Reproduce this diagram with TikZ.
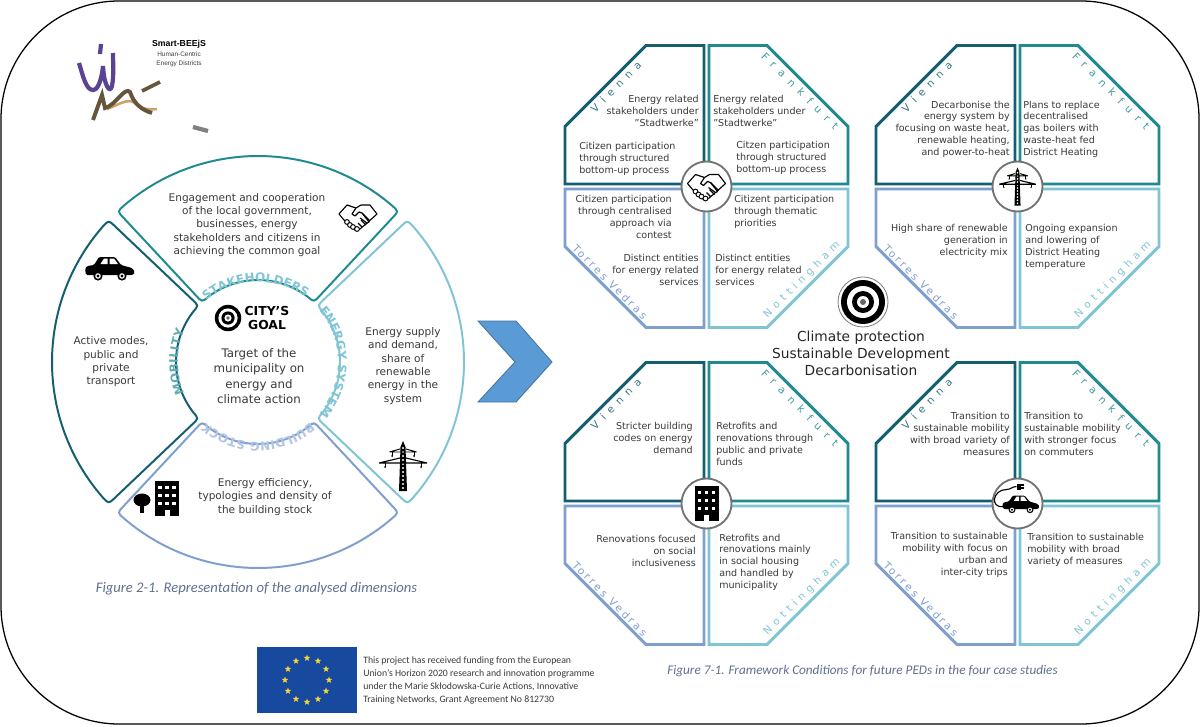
\documentclass[tikz,border=0pt]{standalone}
\usepackage{fontspec}
\setmainfont{DejaVu Sans}
\newfontfamily\carlitofont{Carlito}
\newfontfamily\arialfont{Liberation Sans}
\usetikzlibrary{calc,shapes.geometric,decorations.text}
\definecolor{viennacol}{HTML}{135F70}
\definecolor{frankcol}{HTML}{1F8A90}
\definecolor{torrescol}{HTML}{7F9FCE}
\definecolor{nottcol}{HTML}{80C5D4}
\definecolor{bodygrey}{HTML}{3A3A3A}
\definecolor{capgrey}{HTML}{5F7090}
\definecolor{chevcol}{HTML}{5B9BD5}
\definecolor{flagblue}{HTML}{17499F}
\definecolor{flagstar}{HTML}{F5D33A}
\definecolor{logoviolet}{HTML}{5B4392}
\definecolor{logobrown}{HTML}{66553A}
\definecolor{logotan}{HTML}{C9A466}
\tikzset{
outerframe/.style={draw=black,line width=0.9pt,fill=white,rounded corners=2.95cm},
sectorline/.style={line width=1.4pt,line join=round},
octline/.style={line width=2.1pt,line join=miter},
hubcircle/.style={circle,draw=black!55,line width=1.3pt,fill=white,minimum size=1.25cm,inner sep=0pt},
ringtext/.style={font=\fontsize{7.5}{9.5}\selectfont,align=center,text=bodygrey,inner sep=0pt},
midtext/.style={font=\fontsize{8.4}{10.9}\selectfont,align=center,text=bodygrey,inner sep=0pt},
goaltext/.style={font=\fontsize{8.8}{10.2}\selectfont\bfseries,align=center,text=black,inner sep=0pt},
celltextR/.style={font=\fontsize{6.8}{8.4}\selectfont,align=right,anchor=east,text=bodygrey,inner sep=0pt},
celltextL/.style={font=\fontsize{6.8}{8.4}\selectfont,align=left,anchor=west,text=bodygrey,inner sep=0pt},
citylabel/.style={font=\fontsize{7.4}{8}\selectfont,inner sep=0pt},
climatetext/.style={font=\fontsize{9.8}{12.1}\selectfont,align=center,text=black!85,inner sep=0pt},
figcaption/.style={font=\carlitofont\itshape,text=capgrey,inner sep=0pt},
fundtext/.style={font=\carlitofont\fontsize{6.95}{9.2}\selectfont,align=left,anchor=west,text=bodygrey,inner sep=0pt},
flagstarnode/.style={star,star points=5,star point ratio=2.3,fill=flagstar,inner sep=0pt,minimum size=0.17cm},
target/.pic={
\fill[black] (0,0) circle (22);
\fill[white] (0,0) circle (16);
\fill[black] (0,0) circle (11);
\fill[white] (0,0) circle (6);
\fill[black!60] (0,0) circle (3);
},
handshake/.pic={
\draw[black,line width=0.8pt,line join=round,fill=white] (-19,3) -- (-11,12) -- (-2,9) -- (3,12) -- (12,12) -- (19,3) -- (9,-6) -- (2,-12) -- (-3,-13) -- (-14,-3) -- cycle;
\draw[black,line width=0.8pt,line join=round,fill=white] (-2,9) -- (-6,3) -- (-3,1) -- (1,5) -- (4,4) -- (11,-5) -- (9,-6) -- (2,-1);
\draw[black,line width=0.8pt] (4,4) -- (12,-4) (3,-3) -- (8,-8) (0,-6) -- (4,-10);
\foreach \px/\py in {-11/-5,-8/-8,-5/-10,-1/-12} \draw[black,line width=0.7pt,fill=white] (\px,\py) circle (2.4);
},
pylon/.pic={
\fill[black] (-4,-25) -- (4,-25) -- (2.5,19) -- (0,25) -- (-2.5,19) -- cycle;
\foreach \hy in {-22,-18,...,18} \fill[white] (0,\hy) circle (1.2);
\draw[black,line width=0.7pt] (-13.5,14) -- (-3,17) (13.5,14) -- (3,17) (-13.5,14) -- (13.5,14);
\draw[black,line width=0.8pt] (-24,3) -- (-3,8) (24,3) -- (3,8) (-24,3) -- (24,3);
\draw[black,line width=0.7pt] (-11,14) -- (-11,10) (11,14) -- (11,10) (-18,3) -- (-18,-1) (18,3) -- (18,-1);
\fill[black] (-11,10) circle (1) (11,10) circle (1) (-18,-1) circle (1) (18,-1) circle (1);
},
carbody/.pic={
\fill[black,rounded corners=1pt] (-24,-6) -- (-25,0) -- (-23,3) -- (-16,4) -- (-11,12) -- (5,12) -- (11,4) -- (22,1) -- (25,-3) -- (23,-6) -- cycle;
\fill[white] (-9.5,5) -- (-6,10.5) -- (-2.5,10.5) -- (-2.5,5) -- cycle (-0.5,5) -- (-0.5,10.5) -- (4,10.5) -- (8,5) -- cycle;
\foreach \wx in {-12,12} {
\fill[black] (\wx,-7) circle (4.6);
\fill[white] (\wx,-7) circle (2.8);
\fill[black] (\wx,-7) circle (1.6);
}
},
towerblock/.pic={
\fill[black] (-12,-17.5) rectangle (12,17.5);
\foreach \wy in {11,3,-5} \foreach \wx in {-7,0,7} \fill[white] (\wx-1.6,\wy-1.6) rectangle (\wx+1.6,\wy+1.6);
\fill[white] (-2.5,-17.5) rectangle (2.5,-11);
},
plugcar/.pic={
\pic[scale=0.75] at (3.5,-1) {carbody};
\draw[black,line width=0.8pt] (-14,-3) .. controls (-28,-5) and (-25,14) .. (-11,14) .. controls (-7,14) and (-5,17) .. (-1,17);
\fill[black] (-1,14) rectangle (3,20);
\draw[black,line width=0.8pt] (3,18.5) -- (6,18.5) (3,15.5) -- (6,15.5);
},
}
% one sector of the ring, clockwise from #1 to #2
\newcommand{\ringsector}[3]{
\draw[sectorline,#3] (#1-2.4:206) arc[start angle=#1-2.4,end angle=#2+2.4,radius=206] .. controls (#2:206) .. (#2:198) -- (#2:90) .. controls (#2:82) .. (#2+5.5:82) arc[start angle=#2+5.5,end angle=#1-5.5,radius=82] .. controls (#1:82) .. (#1:90) -- (#1:198) .. controls (#1:206) .. cycle;
}
% curved title over the ring
\newcommand{\ringlabel}[4]{
\path[decorate,decoration={text along path,text align=center,text={|\fontsize{8.5}{10}\selectfont\bfseries\color{#4}|#3}}] (#1:80) arc[start angle=#1,end angle=#2,radius=80];
}
% four quarters of an octagon with their city names
\newcommand{\octoquad}[3]{
\begin{scope}[shift={(#2,#3)}]
\draw[octline,viennacol] (-60.5,141) -- (-2.5,141) -- (-2.5,2.5) -- (-141.5,2.5) -- (-141.5,60) -- cycle;
\draw[octline,frankcol] (60.5,141) -- (2.5,141) -- (2.5,2.5) -- (141.5,2.5) -- (141.5,60) -- cycle;
\draw[octline,torrescol] (-60.5,-141) -- (-2.5,-141) -- (-2.5,-2.5) -- (-141.5,-2.5) -- (-141.5,-60) -- cycle;
\draw[octline,nottcol] (60.5,-141) -- (2.5,-141) -- (2.5,-2.5) -- (141.5,-2.5) -- (141.5,-60) -- cycle;
\node[citylabel,rotate=45,text=viennacol!85] (#1vienna) at (-90.5,99.5) {\addfontfeature{LetterSpace=58}Vienna};
\node[citylabel,rotate=-45,text=frankcol!85] (#1frank) at (93.5,95.5) {\addfontfeature{LetterSpace=68}Frankfurt};
\node[citylabel,rotate=-45,text=torrescol] (#1torres) at (-96.5,-95.5) {\addfontfeature{LetterSpace=27}Torres Vedras};
\node[citylabel,rotate=45,text=nottcol] (#1nott) at (95.5,-93.5) {\addfontfeature{LetterSpace=44}Nottingham};
\node[hubcircle] (#1hub) at (0,0) {};
\end{scope}
}
\begin{document}
\begin{tikzpicture}[x=0.025cm,y=0.025cm]
\useasboundingbox (0,0) rectangle (1200,726);
\draw[outerframe] (1,2) rectangle (1199,725);
%logo
\draw[line width=3pt,color=logoviolet] (101,682) -- (100,672);
\draw[line width=3pt,color=logoviolet] (79,663) .. controls (83,650) and (86,636) .. (93,636) .. controls (99,636) and (102,650) .. (103,660) .. controls (104,640) and (110,632) .. (112,640) .. controls (114,650) and (113,665) .. (113,673);
\draw[line width=1.8pt,color=logotan] (107,617) .. controls (120,622) and (128,628) .. (135,623) .. controls (140,617) and (150,616) .. (157,617);
\draw[line width=2.8pt,color=logobrown] (93,606) -- (102,631) -- (105,618) .. controls (115,620) and (125,640) .. (130,634) .. controls (134,622) and (142,616) .. (152,613);
\draw[line width=2.6pt,color=logobrown] (142,635) -- (160,644);
\draw[line width=3pt,color=black!50] (193,599) -- (208,595);
\node[inner sep=0pt,font=\arialfont\bfseries\fontsize{6.2}{7}\selectfont] (logotitle) at (179,682) {Smart-BEEjS};
\node[inner sep=0pt,align=center,text=black!75,font=\arialfont\fontsize{4.6}{6.4}\selectfont] (logosub) at (179,666.5) {Human-Centric\\Energy Districts};
%left ring
\begin{scope}[shift={(258,364)}]
\ringsector{133}{47}{frankcol}
\ringsector{43.5}{-43.5}{nottcol}
\ringsector{-47}{-133}{torrescol}
\ringsector{-136.5}{-223.5}{viennacol}
\ringlabel{142}{42}{STAKEHOLDERS}{nottcol}
\ringlabel{50}{-50}{ENERGY SYSTEM}{nottcol}
\ringlabel{-40}{-140}{BUILDING STOCK}{torrescol!60}
\ringlabel{-130}{-230}{MOBILITY}{frankcol!70}
\end{scope}
\node[ringtext] (stakeholdertext) at (247,501) {Engagement and cooperation\\of the local government,\\businesses, energy\\stakeholders and citizens in\\achieving the common goal};
\node[ringtext] (mobilitytext) at (111,364) {Active modes,\\public and\\private\\transport};
\node[ringtext] (energytext) at (403,360) {Energy supply\\and demand,\\share of\\renewable\\energy in the\\system};
\node[ringtext] (buildingtext) at (265,229) {Energy efficiency,\\typologies and density of\\the building stock};
\node[midtext] (goaltarget) at (259,350) {Target of the\\municipality on\\energy and\\climate action};
\node[goaltext] (goalhead) at (267,408) {CITY'S\\GOAL};
\pic[scale=0.6] at (228,408) {target};
\pic at (358,509) {handshake};
\pic at (110,457) {carbody};
\pic at (403,260) {pylon};
\pic at (167,227.5) {towerblock};
\fill[black] (142,226) ellipse (8.5 and 6.5);
\fill[black] (140,213) rectangle (144,222);
%arrow
\draw[draw=chevcol!75!black,fill=chevcol,line width=0.6pt] (478,405) -- (516,405) -- (552,364) -- (516,324) -- (478,324) -- (515,364) -- cycle;
%octagons
\octoquad{sh}{706.5}{539.5}
\octoquad{en}{1017.5}{539.5}
\octoquad{bu}{706.5}{222.5}
\octoquad{mo}{1017.5}{222.5}
\pic at (706.5,539.5) {handshake};
\pic[scale=0.76] at (1017.5,539.5) {pylon};
\pic at (706.5,222.5) {towerblock};
\pic at (1017.5,222.5) {plugcar};
%stakeholders
\node[celltextR] (sh1) at (699,615) {Energy related\\stakeholders under\\"Stadtwerke"};
\node[celltextL] (sh2) at (579,567) {Citizen participation\\through structured\\bottom-up process};
\node[celltextL] (sh3) at (713,615) {Energy related\\stakeholders under\\"Stadtwerke"};
\node[celltextL] (sh4) at (736,568) {Citzen participation\\through structured\\bottom-up process};
\node[celltextR] (sh5) at (672,509) {Citizen participation\\through centralised\\approach via\\contest};
\node[celltextR] (sh6) at (699,456) {Distinct entities\\for energy related\\services};
\node[celltextL] (sh7) at (734,514) {Citizent participation\\through thematic\\priorities};
\node[celltextL] (sh8) at (715,456) {Distinct entities\\for energy related\\services};
%energy system
\node[celltextR] (en1) at (1010,597) {Decarbonise the~\\energy system by\\focusing on waste heat,\\renewable heating,\\and power-to-heat};
\node[celltextL] (en2) at (1023,597) {Plans to replace\\decentralised\\gas boilers with\\waste-heat fed\\District Heating};
\node[celltextR] (en3) at (1008,485) {High share of renewable\\generation in\\electricity mix};
\node[celltextL] (en4) at (1025,479) {Ongoing expansion\\and lowering of\\District Heating\\temperature};
%building stock
\node[celltextR] (bu1) at (693,288) {Stricter building\\codes on energy\\demand};
\node[celltextL] (bu2) at (716,282) {Retrofits and\\renovations through\\public and private\\funds};
\node[celltextR] (bu3) at (696,175) {Renovations focused\\on social\\inclusiveness};
\node[celltextL] (bu4) at (719,164) {Retrofits and\\renovations mainly\\in social housing\\and handled by\\municipality};
%mobility
\node[celltextR] (mo1) at (1010,292) {Transition to\\sustainable mobility\\with broad variety of\\measures};
\node[celltextL] (mo2) at (1024,292) {Transition to\\sustainable mobility\\with stronger focus\\on commuters};
\node[celltextR] (mo3) at (1008,171) {Transition to sustainable\\mobility with focus on\\urban and~\\inter-city trips};
\node[celltextL] (mo4) at (1027,176) {Transition to sustainable\\mobility with broad\\variety of measures};
%centre
\node[circle,draw=black!50,line width=0.6pt,fill=white,minimum size=1.25cm,inner sep=0pt] (climatehub) at (863,424) {};
\pic at (863,424) {target};
\node[climatetext] (climatelabel) at (861,373) {Climate protection\\Sustainable Development\\Decarbonisation};
%captions
\node[figcaption,font=\carlitofont\itshape\fontsize{10.4}{12}\selectfont] (caption2) at (256.5,137) {Figure 2-1. Representation of the analysed dimensions};
\node[figcaption,font=\carlitofont\itshape\fontsize{9.4}{11}\selectfont] (caption7) at (862.5,55) {Figure 7-1. Framework Conditions for future PEDs in the four case studies};
%flag
\node[rectangle,fill=flagblue,minimum width=2.5cm,minimum height=1.65cm,inner sep=0pt] (euflag) at (307,46) {};
\foreach \a in {0,30,...,330} \node[flagstarnode] (star\a) at ($(307,46)+(\a:22)$) {};
\node[fundtext] (fundinglabel) at (363,45.5) {This project has received funding from the European\\Union’s Horizon 2020 research and innovation programme\\under the Marie Skłodowska-Curie Actions, Innovative\\Training Networks, Grant Agreement No 812730};
\end{tikzpicture}
\end{document}
